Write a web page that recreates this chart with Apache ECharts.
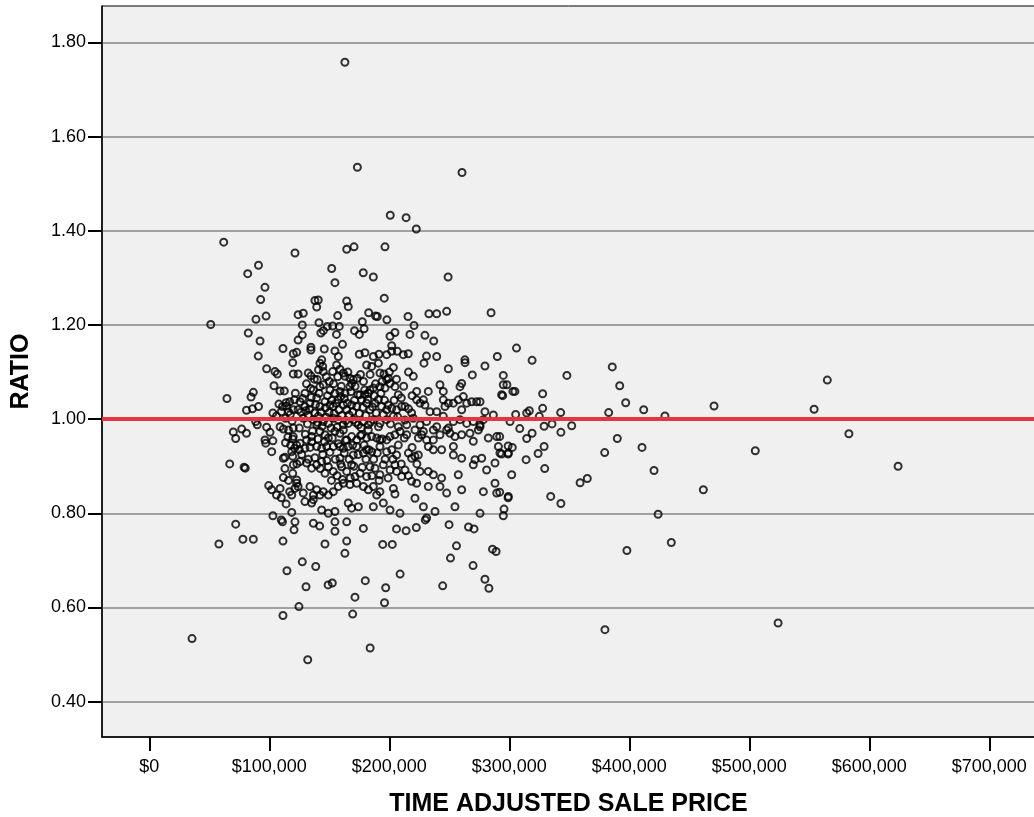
<!DOCTYPE html>
<html><head><meta charset="utf-8">
<script src="https://cdn.jsdelivr.net/npm/echarts@6/dist/echarts.min.js"></script>
<style>html,body{margin:0;padding:0;background:#fff}#c{width:1034px;height:817px}</style>
</head><body><div id="c"></div>
<script>
const xTicks = [0, 100000, 200000, 300000, 400000, 500000, 600000, 700000];
const yTicks = [0.4, 0.6, 0.8, 1.0, 1.2, 1.4, 1.6, 1.8];
const referenceRatio = 1.0;

const salesUpper = [
[163000,1.758],[173400,1.535],[260600,1.524],[200800,1.433],[214000,1.428],[222500,1.404],
[62000,1.376],[121400,1.353],[91000,1.327],[82000,1.309],[96400,1.280],[92800,1.254],[97300,1.219],[88900,1.212],[51200,1.201],[82500,1.183],[92300,1.166],[111400,1.150],[90800,1.134],[120000,1.139],[122800,1.142],
[164500,1.361],[170600,1.366],[196400,1.366],[152000,1.320],[154700,1.290],[178300,1.311],[186700,1.302],[249000,1.302],[195800,1.257],[138000,1.252],[140800,1.253],[139500,1.238],[164500,1.251],[165800,1.239],[124000,1.222],[128300,1.225],[127500,1.200],[127500,1.179],[124000,1.168],[157000,1.220],[182800,1.226],[188600,1.219],[190000,1.218],[198000,1.211],[215600,1.218],[233000,1.224],[239500,1.224],[247800,1.229],[284800,1.226],[141400,1.205],[148300,1.197],[152800,1.198],[158300,1.197],[177500,1.207],[171000,1.188],[175000,1.180],[179000,1.192],[143000,1.183],[145000,1.188],[156000,1.180],[220600,1.199],[217200,1.180],[204700,1.184],[200600,1.176],[229700,1.178],[237000,1.166],[161000,1.159],[134700,1.153],[134700,1.147],[145800,1.149],[154700,1.145],[157500,1.133],[175000,1.138],[179700,1.141],[202000,1.156],[202000,1.144],[206700,1.144],[211700,1.137],[215800,1.139],[191400,1.138],[186700,1.133],[231000,1.134],[239500,1.133],[263000,1.126],[290000,1.133],[306000,1.151],[143700,1.126],[197800,1.137]
];

const salesLeft = [
[119500,1.120],[97800,1.107],[104700,1.101],[106700,1.096],[120000,1.096],[124000,1.096],[103900,1.071],[108900,1.060],[86700,1.057],[84800,1.047],[64700,1.044],[91000,1.027],[81000,1.019],[86000,1.022],[108000,1.032],[111000,1.027],[114000,1.035],[117000,1.037],[121700,1.055],[121000,1.041],[103000,1.013],[106000,1.007],[110000,1.016],[116000,1.016],[120000,1.020],[124000,1.020],[88700,0.995],[90000,0.988],[97800,0.983],[100600,0.972],[109000,0.984],[111700,0.979],[116000,0.977],[120000,0.981],[125000,0.981],[70000,0.973],[72000,0.959],[77000,0.979],[81000,0.970],[96400,0.956],[97000,0.949],[103000,0.954],[102000,0.931],[120000,0.963],[119500,0.958],[118700,0.931],[121000,0.938],[122800,0.945],[111700,0.917],[113000,0.919],[119500,0.921],[120000,0.903],[67000,0.905],[79000,0.898],[80000,0.896],[111700,0.876],[122800,0.871],[99500,0.859],[102000,0.850],[109000,0.853],[106000,0.839],[110000,0.833],[117000,0.846],[118700,0.839],[122800,0.864],[124000,0.857],[121400,0.853],[103000,0.795],[110000,0.786],[111000,0.782],[118700,0.802],[121400,0.782],[120600,0.765],[72000,0.777],
[58000,0.735],[78000,0.745],[86700,0.745],[111400,0.741],[114700,0.678],[124700,0.602],[111400,0.583],[35600,0.534],
[112500,1.060],[115500,0.962],[117800,0.945],[113000,0.895],[116000,0.870],[119500,0.885],[114000,0.820],[123000,0.905],[125000,0.935],[113500,0.950]
];

const salesLower = [
[132000,0.489],[127500,0.697],[138700,0.687],[130600,0.644],[149000,0.648],[152500,0.652],[146400,0.735],[164500,0.741],[163000,0.715],[180000,0.657],[171400,0.622],[169500,0.586],[197000,0.642],[196000,0.610],[184000,0.514],[209000,0.671],[194500,0.734],[202500,0.734],[206000,0.767],[214000,0.763],[222500,0.770],[230000,0.786],[249800,0.776],[266000,0.771],[270600,0.767],[256000,0.731],[251000,0.705],[269800,0.689],[244500,0.646],[279700,0.660],[283000,0.641],[286000,0.724],[289000,0.719],[136700,0.779],[142000,0.773],[154700,0.762],[154700,0.782],[164500,0.782],[178400,0.768]
];

const salesCore = [
[132500,1.098],[134700,1.092],[142200,1.119],[144500,1.112],[145000,1.101],[140000,1.084],[152800,1.101],[156100,1.115],[158900,1.106],[161700,1.098],[163100,1.091],[167200,1.087],[170000,1.084],[173300,1.087],[181100,1.115],[185300,1.112],[190900,1.119],[192200,1.098],[195600,1.096],[197800,1.084],[203400,1.110],[199200,1.087],[220000,1.091],[228900,1.119],[249200,1.107],[263100,1.120],[269200,1.094],[279700,1.113],
[129700,1.055],[136700,1.062],[142200,1.069],[145000,1.073],[150600,1.062],[154700,1.055],[158900,1.059],[163100,1.055],[167200,1.069],[168600,1.076],[175600,1.052],[179700,1.052],[182500,1.055],[183900,1.062],[186700,1.066],[192200,1.069],[196400,1.066],[200600,1.076],[204700,1.069],[207500,1.052],[222800,1.059],[232500,1.059],[242200,1.073],[245000,1.059],[260300,1.076],[258900,1.069],[261700,1.048],[293600,1.052],
[125600,1.037],[129700,1.027],[133900,1.034],[139500,1.045],[142200,1.027],[146400,1.037],[150600,1.030],[153300,1.027],[157500,1.041],[161700,1.030],[164500,1.020],[168600,1.030],[172800,1.027],[177000,1.041],[181100,1.034],[183900,1.020],[188100,1.034],[190900,1.042],[193600,1.027],[197800,1.020],[202000,1.023],[206100,1.020],[210300,1.027],[213100,1.027],[218600,1.013],[222800,1.041],[225600,1.034],[228400,1.041],[229700,1.030],[233900,1.016],[239500,1.016],[245000,1.041],[246400,1.027],[249200,1.034],[253400,1.034],[257500,1.041],[260300,1.020],[264500,1.034],[268600,1.037],[272800,1.037],[275600,1.037],[279700,1.016],[286700,1.009],
[128300,1.002],[132500,1.009],[136700,0.999],[140800,1.006],[145000,0.995],[149200,0.991],[153300,1.002],[157500,0.999],[161700,0.988],[165800,0.991],[170000,0.999],[174200,0.988],[178400,0.995],[182500,0.988],[186700,0.999],[192200,0.991],[197800,0.999],[203400,1.006],[207500,0.984],[214500,0.988],[220000,1.002],[225600,0.988],[231100,0.995],[236700,0.977],[239500,0.984],[245000,1.006],[249200,0.981],[253400,0.995],[258900,0.999],[264500,0.991],[270000,0.995],[275600,0.988],[278400,0.999],
[131100,0.956],[135300,0.963],[139500,0.988],[142200,0.974],[146400,0.967],[149200,0.960],[154700,0.974],[158900,0.970],[161700,0.977],[164500,0.956],[168600,0.963],[172800,0.956],[177000,0.967],[181100,0.960],[182500,0.977],[185300,0.963],[189500,0.960],[192200,0.956],[197800,0.956],[200600,0.963],[204700,0.967],[208900,0.974],[214500,0.967],[221400,0.977],[224200,0.960],[227000,0.967],[228400,0.974],[231100,0.956],[236700,0.956],[242200,0.967],[247800,0.977],[250600,0.970],[254700,0.963],[260300,0.967],[267200,0.970],[270000,0.953],[274200,0.977],[275600,0.984],[282500,0.960],[289500,0.963],[290900,0.942],
[125600,0.949],[129700,0.938],[135300,0.952],[139500,0.942],[143600,0.938],[147800,0.942],[153300,0.942],[158900,0.942],[161700,0.938],[165800,0.942],[170000,0.924],[172800,0.942],[178400,0.928],[181100,0.935],[185300,0.931],[192200,0.942],[197800,0.931],[202000,0.935],[206100,0.924],[215900,0.928],[218600,0.917],[221400,0.921],[224200,0.924],[232500,0.942],[236700,0.935],[243600,0.935],[253400,0.942],[253400,0.924],[260300,0.917],[271400,0.914],[277000,0.917],[292200,0.928],[299200,0.928],
[125600,0.910],[131100,0.907],[135300,0.896],[139500,0.903],[143600,0.910],[146400,0.885],[149200,0.899],[153300,0.889],[158900,0.917],[160300,0.899],[164500,0.889],[168600,0.903],[171400,0.878],[175600,0.885],[181100,0.878],[183900,0.899],[188100,0.896],[192200,0.882],[195000,0.903],[200600,0.892],[204700,0.903],[206100,0.889],[210300,0.878],[213100,0.892],[225600,0.889],[232500,0.889],[236700,0.882],[243600,0.875],[257500,0.882],[270000,0.903],[281100,0.892],[288100,0.907],
[128300,0.843],[133900,0.857],[136700,0.839],[139500,0.850],[142200,0.839],[145000,0.846],[149200,0.839],[153300,0.846],[157500,0.857],[161700,0.864],[167200,0.861],[172800,0.864],[178400,0.857],[182500,0.850],[186700,0.857],[189500,0.839],[192200,0.846],[203400,0.853],[204700,0.841],[218600,0.868],[222800,0.864],[232500,0.857],[242200,0.857],[247800,0.843],[260300,0.850],[278400,0.846],[288100,0.864],[289500,0.843],[299200,0.836],
[129700,0.825],[135300,0.822],[136700,0.829],[143600,0.807],[149200,0.800],[154700,0.804],[165800,0.822],[168600,0.811],[174200,0.814],[186700,0.814],[195000,0.822],[200600,0.807],[208900,0.800],[221400,0.832],[228400,0.814],[231100,0.790],[238100,0.804],[254700,0.814],[275600,0.800]
];

const salesCoreDense = [
[114500,1.028],[117500,1.010],[119000,0.996],[113500,1.002],[126500,1.015],[127800,1.044],[130500,1.018],[131800,0.990],[133500,1.021],[135000,1.046],[137800,1.013],[138500,1.031],[140300,0.993],[141500,1.055],[143000,1.015],[144000,0.985],[146800,1.024],[147500,1.004],[148500,1.050],[149800,1.014],[151500,0.981],[152000,1.040],[154000,1.012],[155500,1.034],[156500,0.983],[158000,1.020],[159500,1.048],[160500,1.008],[162500,1.044],[163800,0.997],[165000,1.034],[166500,1.009],[168000,1.058],[169500,1.016],[171000,1.040],[172000,0.993],[173800,1.052],[175000,1.012],[176500,0.982],[178000,1.025],[179500,1.062],[180500,1.008],[182000,1.042],[184500,0.994],[186000,1.026],[187500,1.050],[189000,1.013],[191000,0.984],[193000,1.055],[195000,1.010],[196000,1.040],[199000,1.030],[201000,0.990],[204000,1.040],[207000,1.005],[210000,1.045],[213000,0.998],[216000,1.022],[219000,1.050],
[127000,0.925],[130000,0.968],[132500,0.915],[134000,0.940],[136000,0.975],[138000,0.918],[140500,0.958],[142500,0.895],[144500,0.925],[146000,0.952],[148000,0.912],[150500,0.930],[151800,0.870],[152500,0.960],[155000,0.915],[156500,0.880],[157500,0.948],[159500,0.905],[161000,0.872],[162500,0.928],[163500,0.955],[166500,0.915],[167500,0.875],[169500,0.945],[170500,0.900],[174000,0.925],[176000,0.965],[177500,0.898],[179000,0.945],[180500,0.915],[183000,0.935],[185500,0.880],[187000,0.915],[190000,0.928],[191500,0.870],[194000,0.958],[196500,0.915],[199000,0.875],[203000,0.915],[207500,0.945],[210000,0.905],[212500,0.960],[216000,0.880],[219000,0.940],[223000,0.905],
[131000,1.075],[134500,1.065],[137500,1.085],[141000,1.105],[147500,1.090],[150000,1.080],[153500,1.075],[157000,1.090],[160000,1.070],[165500,1.100],[171500,1.070],[176000,1.095],[178500,1.080],[184000,1.095],[188500,1.075],[194000,1.080],[200000,1.100],[206000,1.085],[212000,1.070],[216000,1.100]
];

const salesRight = [
[319000,1.125],[295000,1.093],[295000,1.073],[298000,1.073],[303000,1.059],[304700,1.059],[294500,1.050],[327800,1.054],[348000,1.093],[385800,1.111],[392000,1.071],[565000,1.083],[397000,1.035],[412000,1.020],[470600,1.028],[554000,1.021],[382800,1.014],[429700,1.007],[327800,1.023],[342800,1.014],[316700,1.018],[314500,1.013],[305300,1.010],[325000,1.006],[300600,0.995],[308700,0.980],[335600,0.990],[329000,0.985],[352000,0.986],[343000,0.972],[319000,0.970],[314500,0.959],[292000,0.963],[390000,0.959],[583000,0.969],[329000,0.942],[299000,0.943],[302500,0.940],[293600,0.926],[299000,0.926],[324000,0.927],[410600,0.940],[379500,0.929],[505000,0.933],[314000,0.914],[329500,0.895],[624000,0.900],[302000,0.882],[420600,0.891],[365000,0.874],[359000,0.865],[292000,0.845],[299000,0.833],[461700,0.850],[334500,0.836],[343000,0.821],[295600,0.809],[295000,0.795],[424000,0.798],[435000,0.738],[398000,0.721],[379700,0.553],[524000,0.567]
];

const allSales = [].concat(salesUpper, salesLeft, salesLower, salesCore, salesCoreDense, salesRight);

const FONT = 'Liberation Sans, Arial, sans-serif';
const chart = echarts.init(document.getElementById('c'), null, {renderer: 'canvas'});
chart.setOption({
  animation: false,
  backgroundColor: '#fff',
  grid: {left: 102, top: 6, right: -1, bottom: 80, show: true, backgroundColor: '#f0f0f0',
         borderColor: '#000', borderWidth: 1, containLabel: false, outerBoundsMode: 'none'},
  xAxis: {
    type: 'value', min: -39417, max: 738083,
    axisLine: {show: true, onZero: false, lineStyle: {color: '#000', width: 1.5}},
    axisTick: {show: true, length: 14, customValues: xTicks, lineStyle: {color: '#000', width: 2}},
    axisLabel: {customValues: xTicks, margin: 21, color: '#000', fontSize: 18, fontFamily: FONT,
                formatter: v => '$' + Math.round(v).toLocaleString('en-US')},
    splitLine: {show: false},
    name: 'TIME ADJUSTED SALE PRICE', nameLocation: 'middle', nameGap: 55,
    nameTextStyle: {fontSize: 25, fontWeight: 'bold', fontFamily: FONT, color: '#000'}
  },
  yAxis: {
    type: 'value', min: 0.325, max: 1.8775,
    axisLine: {show: true, onZero: false, lineStyle: {color: '#000', width: 1.5}},
    axisTick: {show: true, length: 14, customValues: yTicks, lineStyle: {color: '#000', width: 2}},
    axisLabel: {customValues: yTicks, margin: 16, color: '#000', fontSize: 18, fontFamily: FONT,
                formatter: v => v.toFixed(2)},
    splitLine: {show: true, lineStyle: {color: '#a0a0a0', width: 2}},
    name: 'RATIO', nameLocation: 'middle', nameGap: 68, nameRotate: 90,
    nameTextStyle: {fontSize: 25, fontWeight: 'bold', fontFamily: FONT, color: '#000'}
  },
  series: [{
    type: 'scatter', data: allSales, symbol: 'circle', symbolSize: 7,
    itemStyle: {color: 'rgba(0,0,0,0)', borderColor: '#000', borderWidth: 2},
    emphasis: {disabled: true},
    markLine: {silent: true, symbol: 'none', animation: false, label: {show: false},
               lineStyle: {color: '#e8343e', width: 4, type: 'solid'},
               data: [{yAxis: referenceRatio}]}
  }]
});
</script>
</body></html>
